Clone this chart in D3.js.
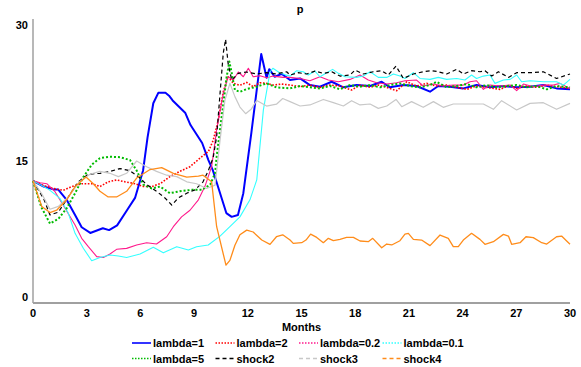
<!DOCTYPE html>
<html><head><meta charset="utf-8">
<script src="https://cdn.jsdelivr.net/npm/d3@7"></script>
<style>body{margin:0;background:#fff;}svg{display:block;font-family:"Liberation Sans",Arial,sans-serif;font-weight:bold;}</style>
</head><body><svg id="c" width="581" height="367"></svg>
<script>
const title = "p";
const xLabel = "Months";
const xTicks = [0,3,6,9,12,15,18,21,24,27,30];
const yTicks = [0,15,30];
const seriesNames = ["lambda=1","lambda=2","lambda=0.2","lambda=0.1","lambda=5","shock2","shock3","shock4"];

const lambda1 = [[0,12.9],[0.6,12.3],[1.14,12.0],[1.4,12.0],[1.88,10.9],[2.35,9.3],[2.72,8.0],[3.2,7.4],[3.9,7.9],[4.25,7.7],[4.7,8.2],[5.25,9.8],[5.7,11.1],[6.15,14.0],[6.4,17.5],[6.72,21.1],[7.0,22.2],[7.4,22.2],[7.6,21.9],[7.8,21.4],[8.5,20.1],[8.8,18.8],[9.45,16.9],[9.8,15.1],[10.05,14.0],[10.8,9.5],[11.1,9.1],[11.45,9.3],[11.75,11.6],[12.2,18.0],[12.75,26.3],[13.05,23.8],[13.2,24.7],[13.5,23.9],[13.9,24.2],[14.36,23.55],[14.92,23.72],[15.47,23.02],[16.03,22.85],[16.69,23.37],[17.34,22.78],[18.08,23.02],[18.83,22.92],[19.48,23.37],[19.94,22.78],[20.69,23.02],[21.43,22.92],[22.18,22.32],[22.64,22.92],[23.3,22.85],[24.04,22.67],[24.78,23.02],[25.53,22.78],[26.28,22.92],[27.02,22.78],[27.77,22.85],[28.51,23.02],[29.25,22.67],[30,22.57]];
const lambda2 = [[0,12.9],[0.6,12.4],[1.14,12.1],[1.69,11.9],[2.16,12.3],[2.72,12.6],[3.28,12.6],[3.74,12.3],[4.2,12.8],[4.67,13.0],[5.14,12.8],[5.7,12.6],[6.16,12.3],[6.63,12.3],[7.1,12.6],[7.65,13.35],[8.2,13.9],[8.77,14.4],[9.33,15.3],[9.8,16.0],[10.07,17.2],[10.35,19.3],[10.63,22.3],[10.9,23.9],[11.19,23.2],[11.56,23.0],[11.94,23.3],[12.3,22.85],[12.68,23.27],[13.05,23.2],[13.42,23.02],[13.88,23.13],[14.36,23.02],[14.92,22.85],[15.47,23.02],[16.03,22.78],[16.59,23.02],[17.15,22.92],[17.8,22.5],[18.27,23.02],[18.83,22.78],[19.29,23.02],[19.76,22.78],[20.32,22.43],[20.88,23.37],[21.43,22.92],[21.99,23.2],[22.55,22.92],[23.11,23.02],[23.67,22.78],[24.23,22.57],[24.78,22.92],[25.34,22.78],[26.09,22.57],[26.65,23.02],[27.02,22.67],[27.58,22.92],[28.14,22.78],[28.7,23.02],[29.25,22.85],[30,22.67]];
const lambda02 = [[0,12.9],[0.4,12.7],[0.77,12.6],[1.23,11.76],[1.79,10.0],[2.35,8.24],[2.72,6.83],[3.09,5.95],[3.56,4.9],[3.93,4.8],[4.3,5.17],[4.67,5.67],[5.23,5.77],[5.79,6.13],[6.35,6.37],[6.9,6.23],[7.47,7.0],[7.84,8.06],[8.3,9.1],[8.77,9.8],[9.24,10.9],[9.6,12.3],[9.98,14.4],[10.26,18.3],[10.63,22.15],[10.9,23.9],[11.19,23.55],[11.47,24.4],[11.75,23.9],[12.03,24.8],[12.3,23.9],[12.68,24.0],[13.05,23.8],[13.42,23.97],[13.97,23.83],[14.36,23.83],[14.92,23.72],[15.47,23.48],[16.03,23.9],[16.5,23.55],[17.06,23.37],[17.71,23.62],[18.27,24.08],[18.73,23.55],[19.2,23.27],[19.76,23.13],[20.32,23.27],[20.78,23.48],[21.43,23.55],[21.8,22.92],[22.37,23.13],[22.92,22.92],[23.48,23.02],[24.04,23.02],[24.41,23.37],[24.78,23.48],[25.16,22.57],[25.53,23.02],[26.09,22.92],[26.65,23.02],[27.02,22.43],[27.4,23.13],[27.95,22.85],[28.51,23.02],[29.07,23.02],[29.44,23.2],[30,22.67]];
const lambda01 = [[0,12.9],[0.5,12.4],[0.95,11.9],[1.5,11.05],[1.97,9.5],[2.35,7.36],[2.81,5.78],[3.28,4.47],[3.74,4.8],[4.3,5.07],[4.77,4.96],[5.23,4.8],[5.98,5.17],[6.72,5.88],[7.28,5.3],[8.03,5.95],[8.68,5.6],[9.14,5.95],[9.79,6.13],[10.45,7.07],[11.0,8.06],[11.56,9.1],[12.12,10.9],[12.5,13.0],[12.87,20.4],[13.24,24.4],[13.4,24.8],[13.8,24.3],[14.1,24.1],[14.36,23.97],[14.73,24.54],[15.1,24.43],[15.38,24.08],[15.75,24.5],[16.03,23.9],[16.41,24.33],[16.74,24.68],[17.06,24.26],[17.43,23.9],[18.08,23.83],[18.45,23.97],[18.83,24.43],[19.29,23.83],[19.76,23.83],[20.13,24.19],[20.5,23.97],[20.78,23.72],[21.25,24.33],[21.62,23.72],[22.18,23.62],[22.64,23.83],[23.11,23.62],[23.67,23.72],[24.13,23.55],[24.5,24.08],[24.78,23.72],[25.16,23.97],[25.53,24.08],[25.81,23.2],[26.28,23.55],[26.65,23.62],[27.02,24.08],[27.3,23.37],[27.77,23.48],[28.51,23.37],[29.25,23.37],[29.63,23.02],[30,23.62]];
const lambda5 = [[0,12.9],[0.47,10.1],[0.95,8.4],[1.42,8.9],[1.88,10.0],[2.35,11.6],[2.81,13.3],[3.28,14.6],[3.74,15.3],[4.3,15.45],[4.86,15.4],[5.42,15.1],[5.79,14.0],[6.16,12.5],[6.63,12.1],[7.1,12.3],[7.65,11.6],[8.2,11.8],[8.86,11.95],[9.42,11.95],[9.9,12.5],[10.17,13.7],[10.26,15.45],[10.54,19.7],[10.82,23.9],[10.97,25.5],[11.1,24.3],[11.28,22.5],[11.56,22.3],[11.94,22.6],[12.5,22.85],[13.05,23.2],[13.6,22.78],[14.36,22.67],[14.92,22.92],[15.47,22.78],[16.03,22.67],[16.59,22.92],[17.15,22.57],[17.71,23.02],[18.27,22.85],[18.83,23.02],[19.39,22.78],[19.94,23.02],[20.5,23.2],[21.06,22.92],[21.62,22.78],[22.18,23.02],[22.55,23.37],[23.11,22.78],[23.67,22.92],[24.23,23.13],[24.78,22.78],[25.34,23.02],[25.9,22.78],[26.47,22.92],[27.02,23.02],[27.58,22.78],[28.14,22.92],[28.7,22.57],[29.25,22.92],[30,22.78]];
const shock2 = [[0,12.9],[0.6,11.0],[0.95,9.3],[1.42,9.6],[1.97,11.2],[2.53,12.8],[3.09,13.6],[3.74,13.7],[4.3,13.9],[4.86,14.2],[5.42,13.97],[5.98,13.2],[6.35,12.5],[6.9,11.8],[7.37,11.1],[7.75,10.35],[8.12,11.1],[8.59,11.6],[9.05,11.95],[9.5,12.8],[9.8,14.0],[10.07,15.4],[10.26,17.6],[10.45,22.15],[10.63,26.4],[10.76,27.85],[10.9,25.3],[11.1,23.55],[11.47,24.26],[11.94,24.4],[12.5,24.2],[13.05,24.33],[13.6,24.2],[14.17,24.43],[14.36,24.08],[14.82,24.33],[15.29,24.19],[15.75,24.5],[16.22,24.26],[16.69,24.43],[17.15,23.97],[17.71,24.08],[17.99,24.6],[18.45,24.19],[19.01,24.43],[19.48,24.54],[19.85,24.08],[20.28,25.03],[20.69,23.72],[21.25,24.19],[21.8,24.43],[22.27,24.54],[22.64,24.43],[23.11,24.19],[23.67,24.68],[24.04,24.19],[24.5,24.54],[24.97,24.43],[25.25,24.54],[25.63,23.97],[26.0,24.43],[26.56,23.83],[27.02,24.33],[27.77,24.33],[28.51,24.43],[29.25,23.72],[30,24.19]];
const shock3 = [[0,12.9],[0.5,11.5],[0.95,9.9],[1.42,10.2],[1.97,11.2],[2.6,12.8],[3.18,13.6],[3.74,13.9],[4.3,13.7],[4.77,13.35],[5.23,13.7],[5.79,15.0],[6.35,14.4],[6.9,13.9],[7.47,13.5],[8.03,13.35],[8.59,12.8],[9.14,12.6],[9.7,12.1],[10.17,12.45],[10.45,17.2],[10.72,21.4],[11.0,23.2],[11.28,21.8],[11.56,20.7],[11.88,20.0],[12.2,20.5],[12.5,21.4],[13.05,20.8],[13.6,21.0],[13.95,21.6],[14.36,21.27],[14.92,20.81],[15.47,20.92],[16.22,21.5],[16.78,21.16],[17.34,20.81],[17.8,21.37],[18.27,20.92],[18.83,21.02],[19.29,20.56],[19.76,20.81],[20.28,21.5],[20.6,20.74],[21.15,21.27],[21.8,20.67],[22.37,21.27],[22.92,20.67],[23.48,21.02],[24.23,21.02],[25.16,21.02],[25.72,20.46],[26.18,21.37],[27.02,20.39],[27.77,21.09],[28.51,21.16],[29.25,20.46],[30,21.09]];
const shock4 = [[0,12.9],[0.49,10.2],[0.95,9.55],[1.32,9.8],[1.88,10.9],[2.35,12.3],[2.96,13.3],[3.37,12.6],[3.74,11.8],[4.2,11.2],[4.67,11.2],[5.23,11.8],[5.79,13.2],[6.54,14.1],[7.19,14.3],[7.84,13.7],[8.59,13.3],[9.24,13.4],[9.5,13.5],[9.98,12.8],[10.26,8.06],[10.78,4.0],[11.0,4.5],[11.28,6.1],[11.56,7.2],[11.94,7.7],[12.3,7.5],[12.78,6.65],[13.24,6.2],[13.6,7.0],[13.95,7.2],[14.36,6.65],[14.54,6.3],[15.01,6.37],[15.25,6.65],[15.51,7.28],[15.85,6.93],[16.22,6.37],[16.5,6.83],[16.78,6.58],[17.15,6.72],[17.52,6.93],[17.9,6.93],[18.27,6.55],[18.73,6.48],[18.98,6.83],[19.48,5.84],[19.76,6.23],[20.04,6.13],[20.5,6.58],[20.78,7.28],[20.97,7.36],[21.25,6.72],[21.71,6.65],[22.18,6.06],[22.74,7.18],[23.2,6.83],[23.48,5.95],[23.76,5.95],[24.04,6.65],[24.5,7.36],[24.97,6.72],[25.25,6.2],[25.72,6.48],[26.28,7.25],[26.56,7.07],[26.74,6.2],[27.21,6.37],[27.54,7.0],[27.95,6.9],[28.42,6.37],[28.7,6.23],[29.25,7.0],[29.53,7.07],[30,6.2]];

const seriesData = [lambda1, lambda2, lambda02, lambda01, lambda5, shock2, shock3, shock4];
const styles = [
  {c:"#0000ff", w:2,   dash:null,  ldash:null},
  {c:"#ff0000", w:1.6, dash:"1.6,1.6", ldash:"1.5,1.5"},
  {c:"#ff1a8c", w:1.1, dash:null,  ldash:"1.5,1.5"},
  {c:"#33ffff", w:1.1, dash:null,  ldash:"1.5,1.5"},
  {c:"#00bb00", w:2,   dash:"2,2", ldash:"1.5,1.5"},
  {c:"#000000", w:1.2, dash:"4,3", ldash:"4,3"},
  {c:"#c8c8c8", w:1.2, dash:null,  ldash:"4,3"},
  {c:"#ff8c1a", w:1.3, dash:null,  ldash:"4,3"}
];

const svg = d3.select("#c");
const x = d3.scaleLinear().domain([0,30]).range([33,570]);
const y = d3.scaleLinear().domain([0,30]).range([303,19]);

// axes lines
svg.append("line").attr("x1",x(0)).attr("x2",x(0)).attr("y1",y(30)).attr("y2",y(0)).attr("stroke","#a0a0a0").attr("stroke-width",1.5);
svg.append("line").attr("x1",x(0)).attr("x2",x(30)).attr("y1",y(0)).attr("y2",y(0)).attr("stroke","#a0a0a0").attr("stroke-width",2);

// y tick labels
const yOff = v => v===30 ? 10 : (v===0 ? -2 : 4);
svg.selectAll(".yt").data(yTicks).enter().append("text")
  .attr("x",28).attr("y",d=>y(d)+yOff(d)).attr("text-anchor","end")
  .attr("font-size",11).attr("fill","#000").text(d=>d);
// x tick labels
svg.selectAll(".xt").data(xTicks).enter().append("text")
  .attr("x",d=>x(d)).attr("y",317).attr("text-anchor","middle")
  .attr("font-size",11).attr("fill","#000").text(d=>d);

svg.append("text").attr("x",(x(0)+x(30))/2).attr("y",331).attr("text-anchor","middle").attr("font-size",11).text(xLabel);
svg.append("text").attr("x",300).attr("y",13).attr("text-anchor","middle").attr("font-size",11).text(title);

const line = d3.line().x(d=>x(d[0])).y(d=>y(d[1]));
seriesData.forEach((s,i)=>{
  const st = styles[i];
  svg.append("path").attr("d",line(s)).attr("fill","none").attr("stroke",st.c)
    .attr("stroke-width",st.w).attr("stroke-dasharray",st.dash).attr("stroke-linejoin","round");
});

// legend
const colX = [132,215.5,299,382.5];
const rowY = [343,358.5];
seriesNames.forEach((n,i)=>{
  const st = styles[i];
  const cx = colX[i%4], cy = rowY[Math.floor(i/4)];
  svg.append("line").attr("x1",cx).attr("x2",cx+19).attr("y1",cy).attr("y2",cy)
    .attr("stroke",st.c).attr("stroke-width",i===0?1.6:1.3).attr("stroke-dasharray",st.ldash);
  svg.append("text").attr("x",cx+21).attr("y",cy+4).attr("font-size",11).text(n);
});
</script></body></html>
